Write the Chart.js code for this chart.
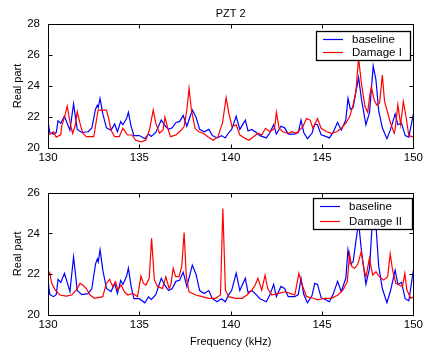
<!DOCTYPE html>
<html>
<head>
<meta charset="utf-8">
<script src="https://cdn.jsdelivr.net/npm/chart.js@4.4.1/dist/chart.umd.min.js"></script>
<style>
    html, body { margin: 0; padding: 0; background: #fff; }
    #top { position: absolute; left: 0; top: 0; width: 426px; height: 175px; }
    #bottom { position: absolute; left: 0; top: 175px; width: 426px; height: 176px; }
</style>
</head>
<body>
<div id="top"><canvas id="chart1"></canvas></div>
<div id="bottom"><canvas id="chart2"></canvas></div>
<script>
// baseline (same in both panels)
const baseFreq = [130.0, 130.1, 130.3, 130.45, 130.55, 130.7, 130.9, 131.05, 131.2, 131.4, 131.6, 131.85, 132.2, 132.4, 132.6, 132.7, 132.75, 132.85, 133.0, 133.2, 133.45, 133.65, 133.8, 133.98, 134.1, 134.3, 134.4, 134.55, 134.7, 135.0, 135.3, 135.5, 135.65, 135.9, 136.2, 136.4, 136.6, 136.8, 137.0, 137.2, 137.4, 137.6, 137.9, 138.1, 138.3, 138.55, 138.8, 139.0, 139.25, 139.5, 139.7, 139.9, 140.05, 140.3, 140.5, 140.8, 140.95, 141.15, 141.4, 141.6, 141.95, 142.15, 142.35, 142.5, 142.75, 142.95, 143.15, 143.5, 143.7, 143.85, 144.0, 144.2, 144.45, 144.6, 144.75, 144.95, 145.2, 145.4, 145.6, 145.85, 146.05, 146.3, 146.42, 146.55, 146.7, 146.85, 147.0, 147.15, 147.4, 147.6, 147.8, 147.95, 148.1, 148.3, 148.55, 148.75, 149.0, 149.15, 149.35, 149.55, 149.75, 150.0];
const baseVals = [21.7, 21.0, 20.9, 21.0, 21.75, 21.6, 22.05, 21.6, 21.15, 22.85, 21.2, 21.0, 21.05, 21.3, 22.5, 22.75, 22.6, 23.2, 22.2, 21.3, 21.15, 21.55, 21.05, 21.7, 21.5, 21.9, 22.3, 21.4, 20.8, 20.8, 20.6, 20.9, 20.75, 21.0, 21.8, 21.45, 21.2, 21.3, 21.65, 21.7, 22.1, 21.4, 22.45, 22.0, 21.2, 21.05, 21.2, 20.8, 20.65, 20.8, 20.65, 21.0, 21.2, 22.05, 21.2, 21.8, 21.1, 21.2, 21.0, 20.8, 20.65, 21.0, 21.5, 20.9, 21.4, 21.3, 20.9, 20.9, 21.0, 21.8, 21.0, 20.6, 20.95, 21.55, 21.5, 20.85, 20.75, 20.65, 21.0, 21.65, 21.15, 21.8, 23.2, 22.5, 22.6, 23.6, 24.55, 23.2, 21.5, 22.3, 25.3, 24.4, 22.4, 21.3, 20.6, 21.2, 22.2, 21.5, 21.6, 20.8, 20.7, 22.2];

// Damage I (top panel)
const dmg1Freq = [130.0, 130.2, 130.3, 130.45, 130.7, 130.75, 130.95, 131.05, 131.25, 131.35, 131.5, 131.6, 131.75, 131.9, 132.1, 132.5, 132.55, 132.74, 133.2, 133.3, 133.45, 133.65, 133.9, 134.1, 134.35, 134.6, 134.8, 135.1, 135.35, 135.55, 135.76, 135.9, 136.1, 136.3, 136.4, 136.55, 136.7, 137.0, 137.3, 137.45, 137.6, 137.72, 137.85, 138.05, 138.25, 138.5, 138.75, 139.05, 139.3, 139.55, 139.75, 139.9, 140.07, 140.3, 140.5, 140.8, 141.0, 141.25, 141.5, 141.7, 141.9, 142.15, 142.4, 142.5, 142.65, 142.85, 143.15, 143.35, 143.6, 143.95, 144.15, 144.35, 144.5, 144.75, 144.95, 145.25, 145.5, 145.8, 146.05, 146.3, 146.5, 146.68, 146.85, 147.0, 147.15, 147.35, 147.5, 147.6, 147.7, 147.85, 148.0, 148.15, 148.3, 148.42, 148.6, 148.75, 148.95, 149.0, 149.15, 149.3, 149.45, 149.6, 149.75, 150.0];
const dmg1Vals = [20.85, 20.95, 21.05, 20.7, 20.85, 21.4, 22.2, 22.7, 21.4, 20.95, 21.5, 22.35, 21.6, 20.95, 20.73, 20.73, 21.05, 22.45, 22.45, 22.0, 21.15, 20.73, 20.73, 21.27, 20.84, 20.84, 20.5, 20.4, 20.5, 21.16, 22.45, 21.6, 20.95, 21.16, 22.0, 21.3, 20.73, 20.84, 21.16, 21.38, 22.45, 23.85, 22.45, 21.27, 21.05, 20.95, 20.73, 20.5, 20.73, 21.6, 23.25, 22.24, 21.38, 21.5, 20.84, 20.62, 20.5, 20.73, 20.95, 20.84, 21.27, 21.05, 21.27, 22.3, 21.27, 21.05, 20.95, 21.05, 20.95, 21.38, 21.9, 21.8, 21.27, 21.9, 21.27, 21.05, 20.95, 21.05, 21.27, 21.6, 22.0, 22.67, 23.63, 25.8, 24.2, 22.67, 22.3, 23.3, 23.96, 23.1, 22.77, 22.9, 24.7, 23.0, 22.24, 21.6, 20.95, 21.2, 22.8, 21.5, 23.0, 22.0, 20.8, 20.7];

// Damage II (bottom panel)
const dmg2Freq = [130.0, 130.1, 130.2, 130.4, 130.65, 131.0, 131.3, 131.55, 131.75, 131.9, 132.1, 132.3, 132.55, 133.0, 133.19, 133.37, 133.55, 133.7, 133.82, 134.0, 134.18, 134.37, 134.64, 134.9, 135.09, 135.22, 135.36, 135.54, 135.67, 135.82, 136.0, 136.27, 136.45, 136.63, 136.72, 136.85, 136.99, 137.17, 137.32, 137.45, 137.57, 137.72, 138.08, 138.44, 138.8, 139.17, 139.44, 139.57, 139.71, 139.89, 140.25, 140.62, 140.89, 141.16, 141.34, 141.49, 141.61, 141.7, 141.88, 142.03, 142.25, 142.61, 142.97, 143.24, 143.51, 143.73, 143.91, 144.15, 144.51, 144.78, 145.14, 145.51, 145.87, 146.14, 146.38, 146.5, 146.63, 146.78, 146.96, 147.14, 147.32, 147.41, 147.59, 147.77, 147.95, 148.13, 148.37, 148.59, 148.73, 148.86, 149.04, 149.22, 149.4, 149.53, 149.64, 149.86, 150.0];
const dmg2Vals = [21.88, 22.07, 21.55, 21.22, 20.98, 20.93, 20.98, 21.22, 21.55, 21.47, 21.3, 20.98, 20.82, 20.9, 21.55, 21.75, 21.39, 21.63, 21.22, 21.47, 21.14, 20.98, 21.06, 20.9, 21.91, 21.55, 21.47, 21.8, 23.76, 21.72, 21.39, 21.3, 21.88, 21.3, 21.47, 22.29, 21.88, 21.88, 22.37, 24.04, 21.88, 21.14, 20.98, 20.9, 20.82, 20.82, 20.98, 25.23, 21.22, 20.9, 20.82, 20.82, 20.98, 21.22, 21.47, 21.8, 21.47, 21.22, 21.96, 21.3, 20.98, 21.06, 21.14, 21.06, 20.98, 22.04, 21.47, 20.9, 20.82, 20.74, 20.82, 20.82, 20.98, 21.22, 21.63, 23.0, 22.37, 22.29, 22.5, 23.1, 22.12, 21.88, 22.78, 21.96, 22.12, 21.88, 21.72, 21.88, 23.0, 22.2, 21.55, 21.47, 21.39, 22.04, 21.22, 20.82, 20.9];

const xTicks = [130, 135, 140, 145, 150];
const FONT = '"Liberation Sans", Arial, sans-serif';

function points(freqs, vals) {
    return freqs.map((f, i) => ({ x: f, y: vals[i] }));
}

// box, inward ticks on all sides, title and legend drawn over the plot
const framePlugin = {
    id: 'frame',
    afterDraw(chart, args, opts) {
        const ctx = chart.ctx;
        const a = chart.chartArea;
        const xs = chart.scales.x;
        const ys = chart.scales.y;
        const l = Math.round(a.left) + 0.5, r = Math.round(a.right) + 0.5;
        const t = Math.round(a.top) + 0.5, b = Math.round(a.bottom) + 0.5;
        ctx.save();
        ctx.strokeStyle = '#000';
        ctx.lineWidth = 1;
        ctx.strokeRect(l, t, r - l, b - t);
        ctx.beginPath();
        xs.ticks.forEach(tk => {
            const px = Math.round(xs.getPixelForValue(tk.value)) + 0.5;
            ctx.moveTo(px, b); ctx.lineTo(px, b - 4);
            ctx.moveTo(px, t); ctx.lineTo(px, t + 4);
        });
        ys.ticks.forEach(tk => {
            const py = Math.round(ys.getPixelForValue(tk.value)) + 0.5;
            ctx.moveTo(l, py); ctx.lineTo(l + 4, py);
            ctx.moveTo(r, py); ctx.lineTo(r - 4, py);
        });
        ctx.stroke();

        ctx.fillStyle = '#000';
        ctx.font = '11px ' + FONT;
        if (opts.title) {
            ctx.textAlign = 'center';
            ctx.textBaseline = 'middle';
            ctx.fillText(opts.title, (a.left + a.right) / 2, opts.titleY);
        }

        const L = opts.legend;
        ctx.fillStyle = '#fff';
        ctx.fillRect(L.x, L.y, L.w, L.h);
        ctx.lineWidth = 1.3;
        ctx.strokeRect(L.x + 0.5, L.y + 0.5, L.w, L.h);
        ctx.lineWidth = 1.2;
        ctx.font = '11.5px ' + FONT;
        ctx.textAlign = 'left';
        ctx.textBaseline = 'middle';
        chart.data.datasets.slice().reverse().forEach((ds, i) => {
            const y = Math.round(L.y + L.rows[i]) + 0.5;
            ctx.strokeStyle = ds.borderColor;
            ctx.beginPath();
            ctx.moveTo(L.x + 7, y);
            ctx.lineTo(L.x + 27, y);
            ctx.stroke();
            ctx.fillStyle = '#000';
            ctx.fillText(ds.label, L.x + 36, y);
        });
        ctx.restore();
    }
};

function makeChart(canvasId, dmgLabel, dmgFreq, dmgVals, yMax, frame, padTop, xHeight, xTitle) {
    const ctx = document.getElementById(canvasId).getContext('2d');
    return new Chart(ctx, {
        type: 'line',
        data: {
            datasets: [
                {
                    label: dmgLabel,
                    data: points(dmgFreq, dmgVals),
                    borderColor: '#ff0000',
                    borderWidth: 1.2,
                    pointRadius: 0,
                    tension: 0
                },
                {
                    label: 'baseline',
                    data: points(baseFreq, baseVals),
                    borderColor: '#0000ff',
                    borderWidth: 1.2,
                    pointRadius: 0,
                    tension: 0
                }
            ]
        },
        options: {
            responsive: true,
            maintainAspectRatio: false,
            animation: false,
            events: [],
            layout: { padding: { top: padTop, right: 10, left: 0, bottom: 0 } },
            scales: {
                x: {
                    type: 'linear',
                    min: 130,
                    max: 150,
                    grid: { display: false, drawTicks: false },
                    border: { display: false },
                    afterBuildTicks: s => { s.ticks = xTicks.map(v => ({ value: v })); },
                    afterFit: s => { s.height = xHeight; },
                    ticks: { color: '#000', font: { family: FONT, size: 11.5 }, padding: 3, maxRotation: 0 },
                    title: {
                        display: !!xTitle,
                        text: xTitle,
                        color: '#000',
                        font: { family: FONT, size: 11 },
                        padding: { top: 0, bottom: 2.4 }
                    }
                },
                y: {
                    min: 20,
                    max: yMax,
                    grid: { display: false, drawTicks: false },
                    border: { display: false },
                    afterFit: s => { s.width = 48; },
                    ticks: { stepSize: 2, color: '#000', font: { family: FONT, size: 11.5 }, padding: 8 },
                    title: {
                        display: true,
                        text: 'Real part',
                        color: '#000',
                        font: { family: FONT, size: 11 },
                        padding: { top: 11.4, bottom: 0 }
                    }
                }
            },
            plugins: {
                legend: { display: false },
                tooltip: { enabled: false },
                frame: frame
            }
        },
        plugins: [framePlugin]
    });
}

makeChart('chart1', 'Damage I', dmg1Freq, dmg1Vals, 28,
    { title: 'PZT 2', titleY: 14, legend: { x: 316, y: 31, w: 94, h: 29, rows: [8, 21] } },
    24, 27, '');
makeChart('chart2', 'Damage II', dmg2Freq, dmg2Vals, 26,
    { legend: { x: 313, y: 23, w: 99, h: 31, rows: [8, 22.5] } },
    17.7, 36, 'Frequency (kHz)');
</script>
</body>
</html>
